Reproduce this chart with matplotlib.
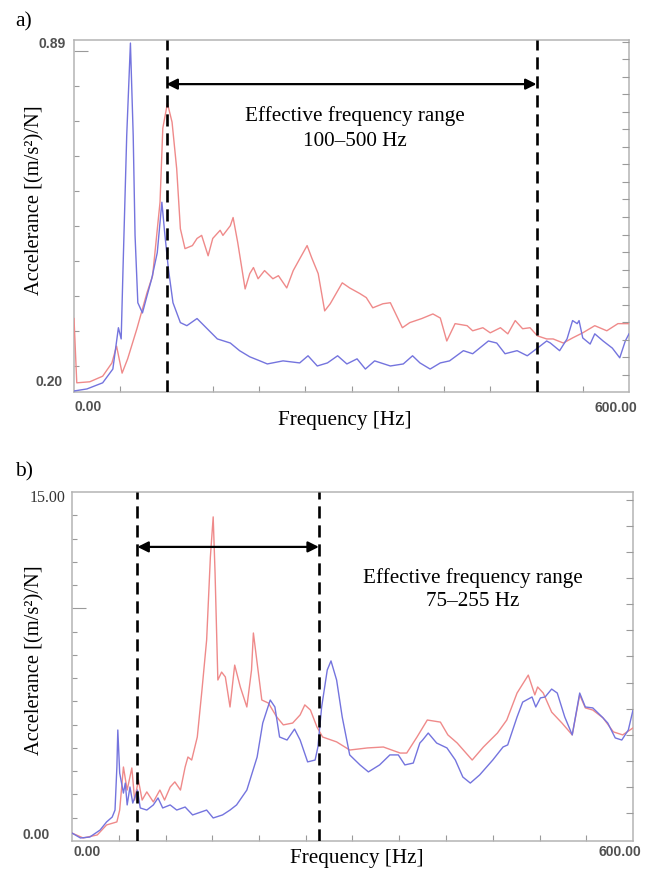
import matplotlib
matplotlib.use("Agg")
import matplotlib.pyplot as plt
import numpy as np

W, H = 649, 874

# ---------------- panel a) data ----------------
a_blue_f = [0, 14, 31, 42, 48, 51, 53, 57, 61, 64,
            66, 69, 74, 79, 84, 90, 95, 98, 102, 107,
            115, 122, 133, 144, 155, 169, 179, 190, 201, 209,
            226, 244, 253, 263, 274, 285, 295, 306, 315, 325,
            342, 356, 366, 374, 385, 396, 406, 421, 431, 448,
            457, 466, 479, 490, 501, 511, 515, 525, 533, 539,
            544, 546, 550, 558, 563, 572, 582, 590, 596, 600]
a_blue_v = [0.202, 0.206, 0.218, 0.245, 0.326, 0.304, 0.442, 0.703, 0.884, 0.703,
            0.507, 0.375, 0.355, 0.389, 0.422, 0.473, 0.572, 0.513, 0.442, 0.375,
            0.336, 0.330, 0.344, 0.324, 0.304, 0.296, 0.281, 0.269, 0.261, 0.255,
            0.261, 0.257, 0.271, 0.251, 0.257, 0.271, 0.255, 0.265, 0.245, 0.261,
            0.251, 0.255, 0.271, 0.257, 0.245, 0.257, 0.261, 0.281, 0.275, 0.300,
            0.296, 0.275, 0.281, 0.271, 0.286, 0.300, 0.296, 0.281, 0.304, 0.340,
            0.334, 0.340, 0.306, 0.294, 0.314, 0.300, 0.286, 0.267, 0.300, 0.314]

a_red_f = [0, 3, 17, 31, 41, 46, 52, 58, 68, 79,
           85, 93, 96, 101, 106, 111, 115, 120, 128, 133,
           138, 145, 150, 158, 161, 169, 172, 177, 185, 190,
           194, 199, 206, 215, 221, 230, 237, 244, 252, 257,
           264, 271, 277, 290, 298, 309, 316, 323, 334, 342,
           355, 363, 376, 388, 396, 403, 412, 425, 431, 442,
           450, 461, 469, 477, 485, 493, 501, 511, 518, 529,
           539, 550, 563, 576, 588, 600]
a_red_v = [0.344, 0.218, 0.220, 0.231, 0.257, 0.290, 0.237, 0.265, 0.324, 0.395,
           0.428, 0.572, 0.717, 0.766, 0.729, 0.638, 0.520, 0.481, 0.487, 0.501,
           0.507, 0.467, 0.501, 0.517, 0.507, 0.526, 0.542, 0.493, 0.402, 0.432,
           0.444, 0.422, 0.438, 0.422, 0.428, 0.404, 0.438, 0.461, 0.487, 0.463,
           0.432, 0.359, 0.373, 0.414, 0.404, 0.393, 0.385, 0.365, 0.373, 0.375,
           0.326, 0.336, 0.344, 0.353, 0.345, 0.300, 0.334, 0.330, 0.320, 0.326,
           0.316, 0.326, 0.314, 0.340, 0.324, 0.326, 0.310, 0.304, 0.304, 0.296,
           0.306, 0.316, 0.330, 0.320, 0.334, 0.334]

a_range = [100, 500]
a_ylim = [0.20, 0.89]

# ---------------- panel b) data ----------------
b_blue_f = [0, 9, 19, 30, 37, 43, 46, 48, 49, 51,
            55, 57, 59, 62, 65, 70, 73, 80, 87, 92,
            97, 105, 112, 121, 129, 144, 151, 161, 169, 176,
            187, 198, 204, 212, 217, 222, 230, 238, 244, 252,
            260, 263, 267, 273, 277, 283, 289, 297, 308, 317,
            329, 340, 349, 356, 365, 372, 375, 381, 390, 401,
            410, 418, 426, 436, 450, 461, 466, 476, 482, 492,
            496, 501, 506, 513, 519, 527, 535, 543, 549, 557,
            567, 573, 581, 588, 595, 600]
b_blue_v = [0.34, 0.13, 0.17, 0.47, 0.82, 1.03, 1.33, 3.18, 4.77, 2.92,
            2.06, 2.49, 1.55, 2.32, 1.63, 2.19, 1.42, 1.33, 1.55, 1.85,
            1.42, 1.55, 1.33, 1.46, 1.12, 1.33, 0.99, 1.12, 1.33, 1.55,
            2.19, 3.61, 5.07, 6.06, 5.76, 4.47, 4.34, 4.81, 4.34, 3.40,
            3.48, 4.04, 5.76, 7.35, 7.74, 6.92, 5.33, 3.70, 3.27, 2.97,
            3.27, 3.70, 3.70, 3.27, 3.35, 4.21, 4.34, 4.64, 4.21, 4.00,
            3.48, 2.75, 2.49, 2.84, 3.48, 4.04, 4.13, 5.33, 5.97, 6.19,
            5.76, 6.15, 6.19, 6.53, 6.36, 5.33, 4.56, 6.36, 5.76, 5.72,
            5.33, 5.07, 4.43, 4.34, 4.77, 5.63]

b_red_f = [0, 12, 27, 37, 48, 51, 55, 59, 64, 67,
           71, 75, 80, 87, 94, 99, 105, 110, 116, 121,
           124, 128, 134, 139, 144, 148, 151, 153, 156, 160,
           164, 169, 174, 180, 187, 192, 194, 198, 203, 210,
           219, 226, 236, 244, 249, 255, 262, 268, 283, 297,
           316, 333, 351, 358, 369, 380, 394, 402, 412, 428,
           440, 455, 465, 476, 488, 495, 498, 504, 513, 524,
           535, 543, 549, 557, 568, 579, 589, 600]
b_red_v = [0.34, 0.13, 0.26, 0.69, 0.82, 1.33, 3.18, 2.19, 3.14, 1.76,
           2.62, 1.76, 2.11, 1.68, 2.19, 1.76, 2.32, 2.54, 2.19, 3.18,
           3.61, 3.48, 4.47, 6.49, 8.64, 12.21, 13.93, 11.52, 6.92, 7.26,
           7.05, 5.76, 7.56, 6.62, 5.76, 7.35, 8.94, 7.65, 6.06, 5.93,
           5.33, 4.99, 5.07, 5.42, 5.85, 5.63, 4.90, 4.47, 4.26, 3.91,
           4.00, 4.04, 3.78, 3.78, 4.47, 5.20, 5.11, 4.56, 4.21, 3.48,
           4.04, 4.64, 5.20, 6.36, 7.13, 6.28, 6.62, 6.36, 5.54, 5.07,
           4.56, 6.28, 5.72, 5.63, 5.29, 4.69, 4.56, 4.86]

b_range_marks = [70, 264]   # dashed lines as drawn
b_ylim = [0.0, 15.0]

x_lim = [0, 600]

BLUE = "#7474de"
RED = "#ef8a8a"
FRAME = "#b4b4b4"
TICKC = "#9a9a9a"
LBL = "#505050"
SERIF = ["Liberation Serif", "DejaVu Serif"]
SANS = ["Liberation Sans", "DejaVu Sans"]

fig = plt.figure(figsize=(W / 100, H / 100), dpi=100)


def fx(px):
    return px / W


def fy(py):
    return 1 - py / H


def make_axes(l, t, r, b):
    return fig.add_axes([fx(l), fy(b), fx(r) - fx(l), fy(t) - fy(b)])


def style(ax, ylim, left_major, left_minor, right_ticks):
    ax.set_xlim(x_lim)
    ax.set_ylim(ylim)
    for s in ax.spines.values():
        s.set_color(FRAME)
        s.set_linewidth(1.1)
    ax.set_xticks(np.arange(50, 600, 50))
    ax.set_xticklabels([])
    ax.set_yticks(left_major)
    ax.set_yticks(left_minor, minor=True)
    ax.set_yticklabels([])
    ax.tick_params(axis="x", direction="in", length=4, width=0.8, color=TICKC)
    ax.tick_params(axis="y", which="major", direction="in", length=10, width=0.8, color=TICKC)
    ax.tick_params(axis="y", which="minor", direction="in", length=3.5, width=0.8, color=TICKC)
    tw = ax.twinx()
    tw.set_ylim(ylim)
    tw.set_yticks(right_ticks)
    tw.set_yticklabels([])
    tw.tick_params(axis="y", direction="in", length=5, width=0.8, color=TICKC)
    for s in tw.spines.values():
        s.set_visible(False)
    return tw


def range_marks(ax, xs, yarrow):
    for x in xs:
        ax.axvline(x, color="black", lw=1.9, linestyle=(0, (4.6, 2.6)), zorder=5)
    ax.annotate("", xy=(xs[0], yarrow), xytext=(xs[1], yarrow),
                arrowprops=dict(arrowstyle="<|-|>", color="black", lw=1.6,
                                mutation_scale=16, shrinkA=0, shrinkB=0),
                zorder=6)


# ---------------- panel a ----------------
axA = make_axes(74, 40, 629, 392)
style(axA, a_ylim,
      [0.868], np.arange(0.868 - 0.0686, 0.2, -0.0686),
      np.arange(0.2334, 0.89, 0.0344))
axA.plot(a_red_f, a_red_v, color=RED, lw=1.0, zorder=3)
axA.plot(a_blue_f, a_blue_v, color=BLUE, lw=1.0, zorder=4)
range_marks(axA, a_range, 0.8035)

# ---------------- panel b ----------------
axB = make_axes(72, 492, 633, 841)
style(axB, b_ylim,
      [10], [v for v in range(1, 15) if v != 10],
      np.arange(1.2, 15, 1.122))
axB.plot(b_red_f, b_red_v, color=RED, lw=1.0, zorder=3)
axB.plot(b_blue_f, b_blue_v, color=BLUE, lw=1.0, zorder=4)
range_marks(axB, b_range_marks, 12.64)

# ---------------- texts ----------------
def ftext(px, py, s, **kw):
    fig.text(fx(px), fy(py), s, **kw)

ftext(15, 22, "a)", family=SERIF, fontsize=15.5, ha="left", va="center")
ftext(15, 472, "b)", family=SERIF, fontsize=15.5, ha="left", va="center")

ftext(52, 44, "0.89", family=SANS, fontsize=10, color=LBL, ha="center", va="center", fontweight="bold")
ftext(49, 382, "0.20", family=SANS, fontsize=10, color=LBL, ha="center", va="center", fontweight="bold")
ftext(88, 407, "0.00", family=SANS, fontsize=10, color=LBL, ha="center", va="center", fontweight="bold")
ftext(616, 408, "600.00", family=SANS, fontsize=10, color=LBL, ha="center", va="center", fontweight="bold")

ftext(48, 498, "15.00", family=SERIF, fontsize=11.5, color="#333333", ha="center", va="center")
ftext(36, 835, "0.00", family=SANS, fontsize=10, color=LBL, ha="center", va="center", fontweight="bold")
ftext(87, 852, "0.00", family=SANS, fontsize=10, color=LBL, ha="center", va="center", fontweight="bold")
ftext(620, 852, "600.00", family=SANS, fontsize=10, color=LBL, ha="center", va="center", fontweight="bold")

ftext(345, 420, "Frequency [Hz]", family=SERIF, fontsize=15.2, ha="center", va="center")
ftext(357, 858, "Frequency [Hz]", family=SERIF, fontsize=15.2, ha="center", va="center")
ftext(35, 200, "Accelerance [(m/s²)/N]", family=SERIF, fontsize=14.8, ha="center", va="center", rotation=90)
ftext(35, 660, "Accelerance [(m/s²)/N]", family=SERIF, fontsize=14.8, ha="center", va="center", rotation=90)

ftext(355, 116, "Effective frequency range", family=SERIF, fontsize=15.2, ha="center", va="center")
ftext(355, 141, "100–500 Hz", family=SERIF, fontsize=15.2, ha="center", va="center")
ftext(473, 578, "Effective frequency range", family=SERIF, fontsize=15.2, ha="center", va="center")
ftext(473, 602, "75–255 Hz", family=SERIF, fontsize=15.2, ha="center", va="center")

fig.savefig("out.png", dpi=100)
